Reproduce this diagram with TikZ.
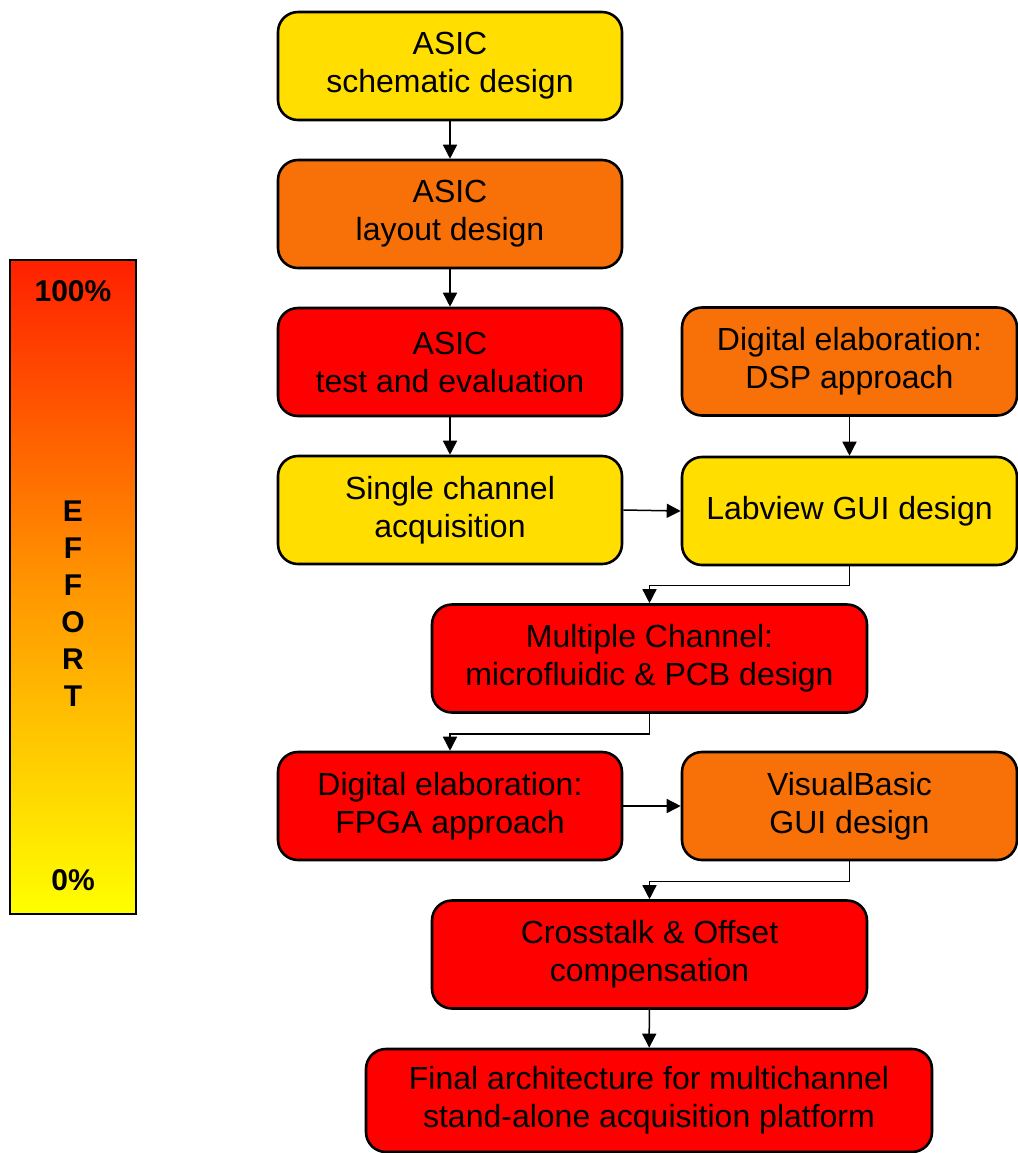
\documentclass[tikz,border=0pt]{standalone}
\usepackage{fontspec}
\setmainfont{Liberation Sans}
\usetikzlibrary{arrows.meta}

\definecolor{stepyellow}{RGB}{255,222,0}
\definecolor{steporange}{RGB}{247,113,8}
\definecolor{stepred}{RGB}{255,0,0}
\definecolor{efforttop}{RGB}{255,32,0}
\definecolor{effortmid}{RGB}{255,150,0}
\definecolor{effortbot}{RGB}{255,255,0}

\tikzset{
  stepbox/.style={draw=black, line width=1.3pt, rounded corners=10pt,
    align=center, inner sep=0pt, minimum width=172pt, minimum height=54pt,
    font=\fontsize{16}{19}\selectfont},
  wide/.style={minimum width=217.5pt},
  side/.style={minimum width=167.5pt},
  lowy/.style={fill=stepyellow},
  midy/.style={fill=steporange},
  highy/.style={fill=stepred},
  flow/.style={draw=black, line width=0.75pt, -{Triangle[length=7pt,width=7pt]}},
  efftext/.style={font=\fontsize{15}{18.5}\selectfont\bfseries, align=center, inner sep=0pt}
}

\begin{document}
\begin{tikzpicture}[x=0.5pt, y=-0.5pt]
  \useasboundingbox (0,0) rectangle (1018,1153);

  % effort scale bar
  \node[draw=black, line width=0.8pt, minimum width=63pt, minimum height=327pt,
        inner sep=0pt, top color=efforttop, bottom color=effortbot,
        middle color=effortmid] (effort) at (73,587) {};
  \node[efftext] (e100) at (73,291) {100\%};
  \node[efftext] (eword) at (73,604) {E\\F\\F\\O\\R\\T};
  \node[efftext] (e0) at (73,880) {0\%};

  % design steps
  \node[stepbox, lowy]  (schem)  at (450,66)   {ASIC\\schematic design};
  \node[stepbox, midy]  (layout) at (450,214)  {ASIC\\layout design};
  \node[stepbox, highy] (test)   at (450,362)  {ASIC\\test and evaluation};
  \node[stepbox, lowy]  (single) at (450,510)  {Single channel\\acquisition};
  \node[stepbox, side, midy]  (dsp) at (849.5,361.5) {Digital elaboration:\\DSP approach};
  \node[stepbox, side, lowy]  (lab) at (849.5,511)   {Labview GUI design};
  \node[stepbox, wide, highy] (multi) at (649.5,658.5) {Multiple Channel:\\microfluidic \& PCB design};
  \node[stepbox, highy] (fpga)   at (450,806)  {Digital elaboration:\\FPGA approach};
  \node[stepbox, side, midy] (vb) at (849.5,806) {VisualBasic\\GUI design};
  \node[stepbox, wide, highy] (cross) at (649.5,954.5) {Crosstalk \& Offset\\compensation};
  \node[stepbox, highy, minimum width=283pt, minimum height=51.5pt] (final) at (649,1100.5)
       {Final architecture for multichannel\\stand-alone acquisition platform};

  % connectors
  \draw[flow] (schem) -- (layout);
  \draw[flow] (layout) -- (test);
  \draw[flow] (test) -- (single);
  \draw[flow] (dsp) -- (lab);
  \draw[flow] (single.east) -- (lab.west);
  \draw[flow] (lab.south) -- ++(0,19) -| (multi.north);
  \draw[flow] (multi.south) -- ++(0,20) -| (fpga.north);
  \draw[flow] (fpga.east) -- (vb.west);
  \draw[flow] (vb.south) -- ++(0,20) -| (cross.north);
  \draw[flow] (cross) -- (final);
\end{tikzpicture}
\end{document}
